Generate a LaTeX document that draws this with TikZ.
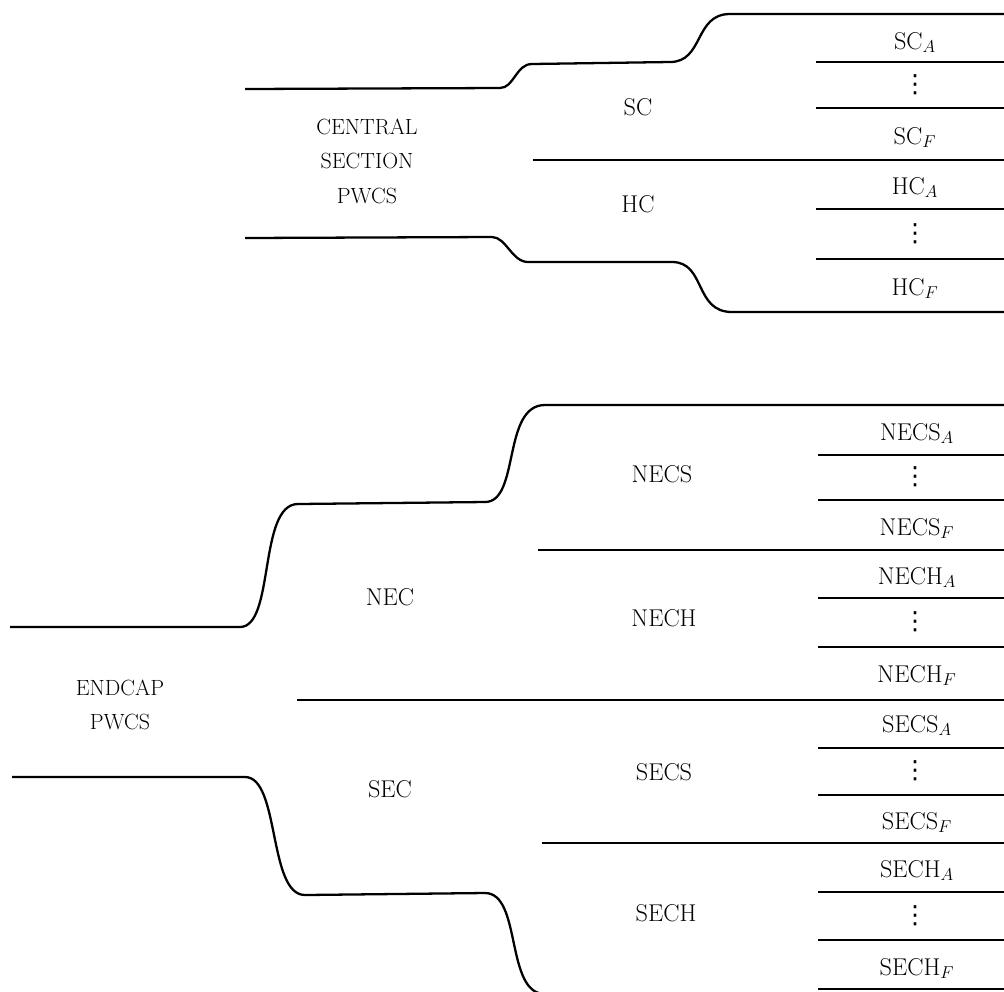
\documentclass[tikz,border=0pt]{standalone}
\usepackage{fontspec}
\newfontfamily\dotsfont{DejaVu Sans}
\tikzset{
wire/.style={line width=1.6pt,line join=round},
rule/.style={line width=1.4pt},
part/.style={font=\fontsize{17}{20}\selectfont\addfontfeatures{LetterSpace=11,FakeBold=0.4},inner sep=0pt,anchor=base},
detector/.style={font=\fontsize{15.4}{24.2}\selectfont\addfontfeatures{LetterSpace=4,FakeBold=0.4},align=center},
gap/.style={font=\dotsfont\fontsize{17.5}{20}\selectfont,inner sep=0pt}
}

\begin{document}
\begin{tikzpicture}[x=0.7pt,y=-0.7pt]
\useasboundingbox (0,0) rectangle (1004,991);
% central section
\draw[wire](245,89)--(500,88) .. controls (514,88) and (516,64) .. (532,64)--(670,62) .. controls (704,62) and (694,14) .. (730,14)--(1004,14);
\draw[wire](245,238)--(492,237) .. controls (506,237) and (512,262) .. (528,262)--(672,262) .. controls (706,262) and (694,312) .. (732,312)--(1004,312);
\draw[rule](533,160)--(1004,160);
\draw[rule](816,62)--(1004,62);\draw[rule](816,108)--(1004,108);
\draw[rule](816,209)--(1004,209);\draw[rule](816,259)--(1004,259);
\node[detector](central) at (367,161){CENTRAL\\SECTION\\PWCS};
\node[part](sc) at (638,115){SC};
\node[part](hc) at (638,212){HC};
\node[part](scA) at (915,49){SC$_A$};
\node[gap](scdots) at (915,85){⋮};
\node[part](scF) at (915,144){SC$_F$};
\node[part](hcA) at (915,194){HC$_A$};
\node[gap](hcdots) at (915,234){⋮};
\node[part](hcF) at (915,295){HC$_F$};
% endcap
\draw[wire](10,627)--(240,627) .. controls (275,627) and (258,504) .. (298,504)--(485,502) .. controls (520,502) and (502,405) .. (545,405)--(1004,405);
\draw[wire](12,777)--(245,777) .. controls (280,777) and (268,895) .. (305,895)--(485,893) .. controls (522,893) and (505,994) .. (545,994)--(1004,994);
\draw[rule](297,700)--(1004,700);
\draw[rule](538,550)--(1004,550);\draw[rule](542,843)--(1004,843);
\draw[rule](818,455)--(1004,455);\draw[rule](818,500)--(1004,500);
\draw[rule](818,598)--(1004,598);\draw[rule](818,647)--(1004,647);
\draw[rule](818,748)--(1004,748);\draw[rule](818,795)--(1004,795);
\draw[rule](818,892)--(1004,892);\draw[rule](818,940)--(1004,940);
\draw[rule](818,989)--(1004,989);
\node[detector](endcap) at (120,705){ENDCAP\\PWCS};
\node[part](nec) at (390,605){NEC};
\node[part](sec) at (390,797){SEC};
\node[part](necs) at (662,482){NECS};
\node[part](nech) at (664,626){NECH};
\node[part](secs) at (664,780){SECS};
\node[part](sech) at (666,921){SECH};
\node[part](necsA) at (917,440){NECS$_A$};
\node[gap](necsdots) at (915,477){⋮};
\node[part](necsF) at (917,535){NECS$_F$};
\node[part](nechA) at (917,584){NECH$_A$};
\node[gap](nechdots) at (915,622){⋮};
\node[part](nechF) at (917,682){NECH$_F$};
\node[part](secsA) at (917,732){SECS$_A$};
\node[gap](secsdots) at (915,771){⋮};
\node[part](secsF) at (917,829){SECS$_F$};
\node[part](sechA) at (917,877){SECH$_A$};
\node[gap](sechdots) at (915,916){⋮};
\node[part](sechF) at (917,975){SECH$_F$};
\end{tikzpicture}
\end{document}
